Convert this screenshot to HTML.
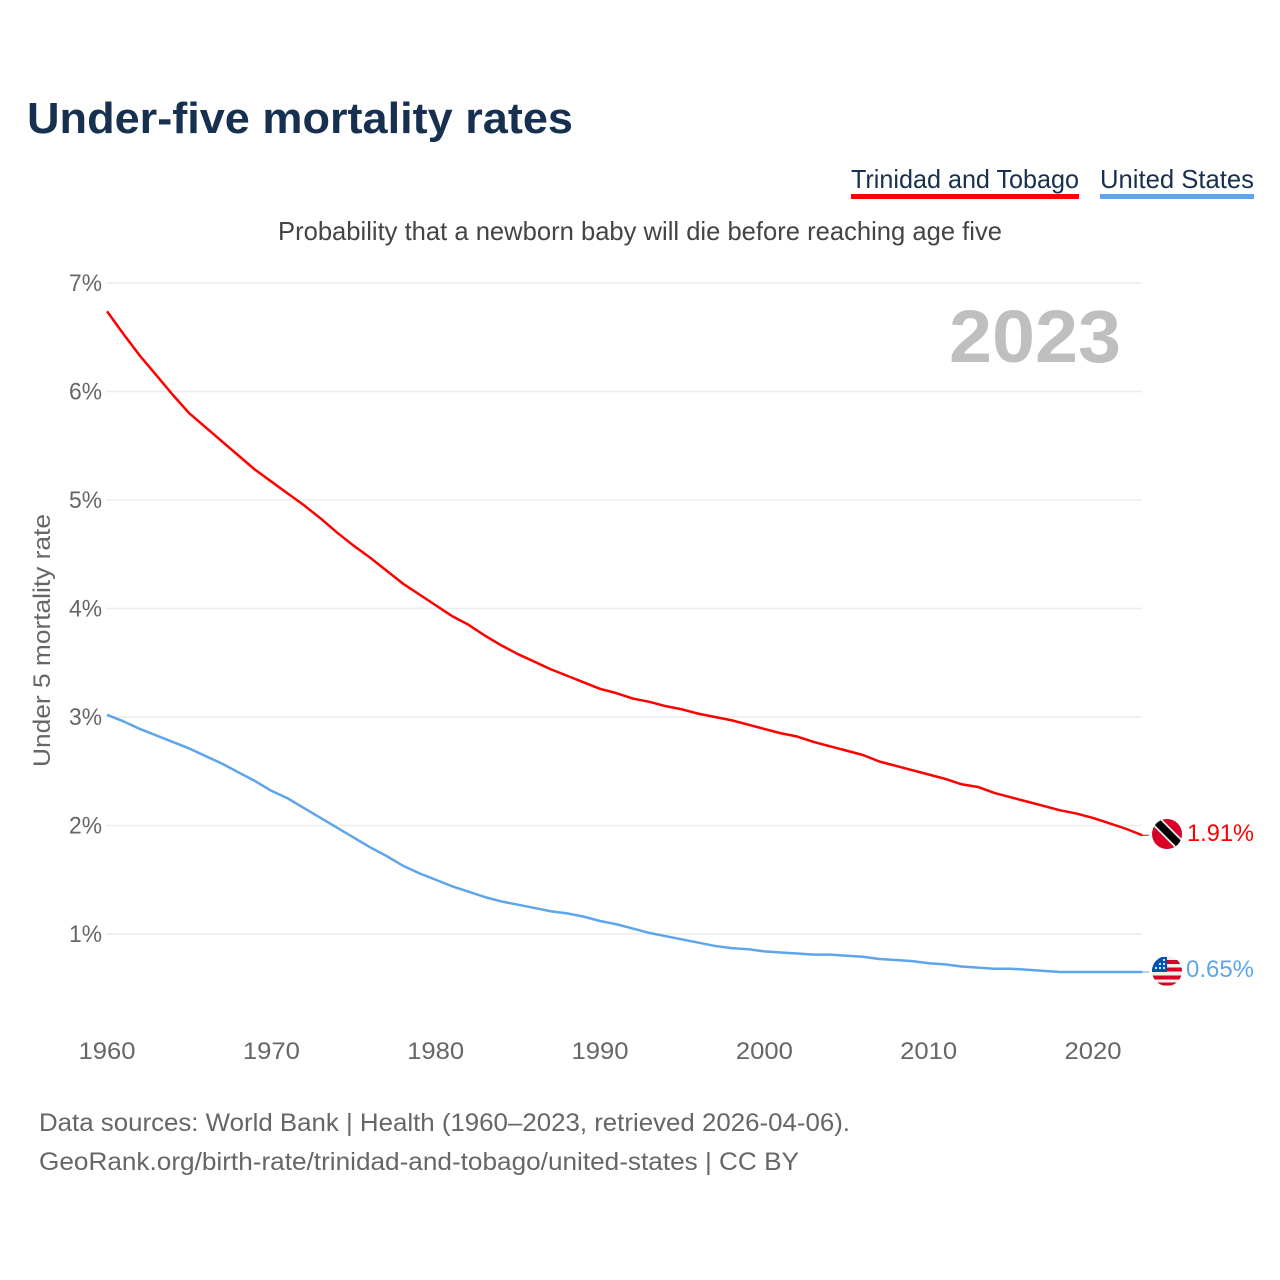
<!DOCTYPE html>
<html lang="en">
<head>
<meta charset="utf-8">
<title>Under-five mortality rates</title>
<style>
html,body{margin:0;padding:0;background:#fff;}
svg{display:block;font-family:"Liberation Sans",sans-serif;}
</style>
</head>
<body>
<svg id="chart" xmlns="http://www.w3.org/2000/svg" width="1280" height="1280" viewBox="0 0 1280 1280">
  <rect width="1280" height="1280" fill="#fff"/>
  <text x="27" y="133" font-size="44" font-weight="700" fill="#17304f" textLength="546" lengthAdjust="spacingAndGlyphs">Under-five mortality rates</text>

  <g>
    <text x="851" y="188" font-size="26" fill="#17304f" textLength="228" lengthAdjust="spacingAndGlyphs">Trinidad and Tobago</text>
    <rect x="851" y="194" width="228" height="5" fill="#ff0000"/>
  </g>
  <g>
    <text x="1100" y="188" font-size="26" fill="#17304f" textLength="154" lengthAdjust="spacingAndGlyphs">United States</text>
    <rect x="1100" y="194" width="154" height="5" fill="#5fa5ec"/>
  </g>

  <text x="278" y="240" font-size="26" fill="#444" textLength="724" lengthAdjust="spacingAndGlyphs">Probability that a newborn baby will die before reaching age five</text>

  <g id="grid"></g>
  <g id="yticks"></g>
  <g id="xticks"></g>

  <text x="949" y="362" font-size="74" font-weight="700" fill="#bfbfbf" textLength="172" lengthAdjust="spacingAndGlyphs">2023</text>
  <text transform="translate(50 767) rotate(-90)" x="0" y="0" font-size="24" fill="#666" textLength="253" lengthAdjust="spacingAndGlyphs">Under 5 mortality rate</text>

  <g id="series"></g>

  <g>
    <clipPath id="clipTT"><circle cx="1167" cy="834" r="15"/></clipPath>
    <g clip-path="url(#clipTT)">
      <rect x="1150" y="817" width="34" height="34" fill="#d80027"/>
      <line x1="1151" y1="816" x2="1185" y2="850" stroke="#f0f0f0" stroke-width="11"/>
      <line x1="1151" y1="816" x2="1185" y2="850" stroke="#000" stroke-width="7.5"/>
    </g>
  </g>
  <g>
    <clipPath id="clipUS"><circle cx="1167" cy="971" r="15"/></clipPath>
    <g clip-path="url(#clipUS)">
      <rect x="1150" y="954" width="34" height="34" fill="#f0f0f0"/>
      <rect x="1150" y="960" width="34" height="4" fill="#d80027"/>
      <rect x="1150" y="967.5" width="34" height="4" fill="#d80027"/>
      <rect x="1150" y="975.5" width="34" height="4" fill="#d80027"/>
      <rect x="1150" y="982.5" width="34" height="3" fill="#d80027"/>
      <path d="M1152 972 V965 L1160 957 H1167 V972 Z" fill="#0052b4"/>
      <g fill="#f0f0f0">
        <circle cx="1156" cy="968" r="1.1"/><circle cx="1160" cy="968" r="1.1"/><circle cx="1164" cy="968" r="1.1"/>
        <circle cx="1160" cy="964" r="1.1"/><circle cx="1164" cy="964" r="1.1"/>
        <circle cx="1164" cy="960" r="1.1"/>
      </g>
    </g>
  </g>

  <text x="1187" y="841" font-size="24" fill="#ff0000" textLength="67" lengthAdjust="spacingAndGlyphs">1.91%</text>
  <text x="1186" y="977" font-size="24" fill="#5fa5ec" textLength="68" lengthAdjust="spacingAndGlyphs">0.65%</text>

  <text x="39" y="1131" font-size="25" fill="#666" textLength="811" lengthAdjust="spacingAndGlyphs">Data sources: World Bank | Health (1960–2023, retrieved 2026-04-06).</text>
  <text x="39" y="1170" font-size="25" fill="#666" textLength="760" lengthAdjust="spacingAndGlyphs">GeoRank.org/birth-rate/trinidad-and-tobago/united-states | CC BY</text>
</svg>
<script>
const firstYear = 1960;
const yTickValues = [1, 2, 3, 4, 5, 6, 7];
const xTickValues = [1960, 1970, 1980, 1990, 2000, 2010, 2020];
const trinidadValues = [6.74,6.53,6.33,6.15,5.97,5.80,5.67,5.54,5.41,5.28,5.17,5.06,4.95,4.83,4.70,4.58,4.47,4.35,4.23,4.13,4.03,3.93,3.85,3.75,3.66,3.58,3.51,3.44,3.38,3.32,3.26,3.22,3.17,3.14,3.10,3.07,3.03,3.00,2.97,2.93,2.89,2.85,2.82,2.77,2.73,2.69,2.65,2.59,2.55,2.51,2.47,2.43,2.38,2.355,2.30,2.26,2.22,2.18,2.14,2.11,2.07,2.02,1.97,1.91];
const unitedStatesValues = [3.02,2.96,2.89,2.83,2.77,2.71,2.64,2.57,2.49,2.41,2.32,2.25,2.16,2.07,1.98,1.89,1.80,1.72,1.63,1.56,1.50,1.44,1.39,1.34,1.30,1.27,1.24,1.21,1.19,1.16,1.12,1.09,1.05,1.01,0.98,0.95,0.92,0.89,0.87,0.86,0.84,0.83,0.82,0.81,0.81,0.80,0.79,0.77,0.76,0.75,0.73,0.72,0.70,0.69,0.68,0.68,0.67,0.66,0.65,0.65,0.65,0.65,0.65,0.65];

const NS = 'http://www.w3.org/2000/svg';
function xScale(year) { return 107 + (year - 1960) * (1093 - 107) / 60; }
function yScale(v) { return 1042.5 - v * 108.5; }

function make(tag, attrs, parent) {
  const el = document.createElementNS(NS, tag);
  for (const k in attrs) el.setAttribute(k, attrs[k]);
  parent.appendChild(el);
  return el;
}

const gridG = document.getElementById('grid');
const yG = document.getElementById('yticks');
const xG = document.getElementById('xticks');
const seriesG = document.getElementById('series');

yTickValues.forEach(function (v) {
  const line = make('line', {x1: 106, x2: 1142, y1: yScale(v), y2: yScale(v), stroke: '#ececec', 'stroke-width': 1.5}, gridG);
  
  
  const t = make('text', {x: 69, y: yScale(v) + 8, 'font-size': 24, fill: '#666', textLength: 33, lengthAdjust: 'spacingAndGlyphs'}, yG);
  
  
  t.textContent = v + '%';
});

xTickValues.forEach(function (y) {
  const t = make('text', {x: xScale(y) - 28.5, y: 1059, 'font-size': 24, fill: '#666', textLength: 57, lengthAdjust: 'spacingAndGlyphs'}, xG);
  
  
  t.textContent = y;
});

function pathFor(values) {
  return values.map(function (v, i) {
    return (i ? 'L' : 'M') + xScale(firstYear + i).toFixed(2) + ' ' + yScale(v).toFixed(2);
  }).join(' ');
}
function leader(values, color) {
  const last = yScale(values[values.length - 1]);
  return make('line', {x1: 1142, x2: 1149, y1: last, y2: last, stroke: color, 'stroke-width': 1}, seriesG);
}

const usLine = make('path', {d: pathFor(unitedStatesValues), fill: 'none', stroke: '#5fa5ec', 'stroke-width': 2.5, 'stroke-linejoin': 'round'}, seriesG);


const usLeader = leader(unitedStatesValues, '#5fa5ec');



const ttLine = make('path', {d: pathFor(trinidadValues), fill: 'none', stroke: '#ff0000', 'stroke-width': 2.5, 'stroke-linejoin': 'round'}, seriesG);


const ttLeader = leader(trinidadValues, '#ff0000');


</script>
</body>
</html>
